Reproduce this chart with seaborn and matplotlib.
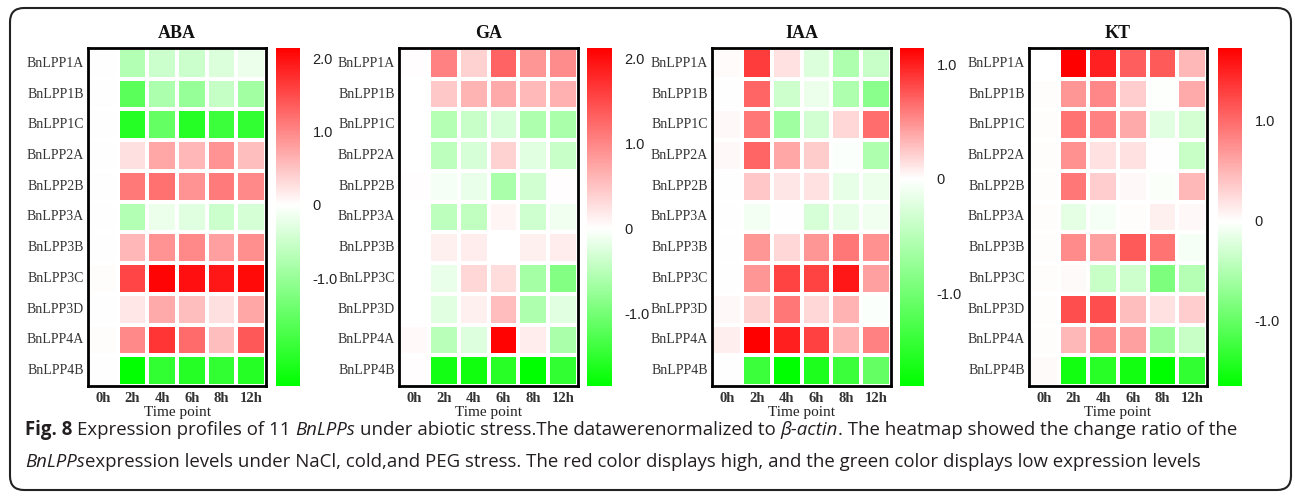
import numpy as np
import pandas as pd
import matplotlib
matplotlib.use("Agg")
import matplotlib.pyplot as plt
import seaborn as sns
from matplotlib.colors import LinearSegmentedColormap
from matplotlib.patches import FancyBboxPatch
from matplotlib.transforms import IdentityTransform

# ---------------- data ----------------
genes = ["BnLPP1A", "BnLPP1B", "BnLPP1C", "BnLPP2A", "BnLPP2B", "BnLPP3A",
         "BnLPP3B", "BnLPP3C", "BnLPP3D", "BnLPP4A", "BnLPP4B"]
time_points = ["0h", "2h", "4h", "6h", "8h", "12h"]
treatments = ["ABA", "GA", "IAA", "KT"]

aba = [
    [0.00, -0.73, -0.50, -0.50, -0.35, -0.20],
    [0.00, -1.60, -0.80, -1.00, -0.55, -0.90],
    [0.00, -2.10, -1.50, -2.10, -1.90, -2.00],
    [0.00, 0.25, 0.75, 0.60, 0.90, 0.55],
    [0.00, 1.13, 1.20, 0.90, 1.10, 1.00],
    [0.00, -0.73, -0.20, -0.30, -0.50, -0.40],
    [0.00, 0.60, 0.90, 1.00, 0.80, 0.95],
    [0.02, 1.55, 2.10, 2.00, 1.95, 2.05],
    [0.00, 0.20, 0.70, 0.55, 0.25, 0.75],
    [0.02, 1.00, 1.70, 1.25, 0.55, 1.40],
    [0.00, -2.45, -2.00, -2.10, -2.00, -2.10],
]
ga = [
    [0.02, 1.04, 0.37, 1.29, 0.87, 0.95],
    [0.00, 0.46, 0.62, 0.70, 0.58, 0.66],
    [0.00, -0.54, -0.40, -0.29, -0.58, -0.62],
    [0.00, -0.47, -0.29, 0.37, -0.22, -0.40],
    [0.02, -0.07, -0.15, -0.62, -0.33, 0.02],
    [0.00, -0.47, -0.44, 0.08, -0.36, -0.10],
    [0.00, 0.12, 0.16, 0.00, 0.12, 0.16],
    [0.01, -0.15, 0.33, 0.29, -0.65, -0.90],
    [0.00, -0.22, 0.12, 0.54, -0.58, -0.22],
    [0.05, -0.51, -0.25, 2.10, 0.16, -0.62],
    [0.02, -1.70, -1.74, -1.56, -1.85, -1.49],
]
iaa = [
    [0.02, 0.87, 0.13, -0.25, -0.57, -0.39],
    [0.00, 0.69, -0.36, -0.14, -0.57, -0.82],
    [0.03, 0.60, -0.67, -0.32, 0.18, 0.65],
    [0.03, 0.69, 0.40, 0.22, -0.03, -0.57],
    [0.00, 0.25, 0.11, 0.13, -0.18, -0.14],
    [0.00, -0.07, 0.01, -0.28, -0.18, -0.11],
    [0.00, 0.47, 0.18, 0.47, 0.60, 0.49],
    [0.00, 0.47, 0.83, 0.83, 1.03, 0.42],
    [0.03, 0.20, 0.60, 0.18, 0.34, -0.03],
    [0.07, 1.14, 1.00, 0.85, 0.34, 0.56],
    [0.00, -1.38, -1.81, -1.60, -1.38, -1.10],
]
kt = [
    [0.00, 1.73, 1.50, 1.09, 1.12, 0.48],
    [0.02, 0.71, 0.81, 0.34, -0.02, 0.58],
    [0.02, 0.95, 0.85, 0.58, -0.19, -0.29],
    [0.02, 0.75, 0.20, 0.20, 0.01, -0.36],
    [0.02, 0.92, 0.34, 0.05, -0.03, 0.48],
    [0.02, -0.16, -0.06, 0.02, 0.10, 0.05],
    [0.02, 0.78, 0.64, 1.12, 0.95, -0.06],
    [0.02, 0.03, -0.36, -0.32, -0.84, -0.48],
    [0.02, 1.19, 1.19, 0.44, 0.20, 0.34],
    [0.02, 0.48, 0.78, 0.64, -0.64, -0.36],
    [0.03, -1.52, -1.39, -1.52, -1.65, -1.33],
]
value_ranges = [(-2.47, 2.14), (-1.85, 2.12), (-1.81, 1.14), (-1.65, 1.73)]
cbar_ticks = [[-1.0, 0.0, 1.0, 2.0], [-1.0, 0.0, 1.0, 2.0],
              [-1.0, 0.0, 1.0], [-1.0, 0.0, 1.0]]
cbar_labels = [["-1.0", "0", "1.0", "2.0"], ["-1.0", "0", "1.0", "2.0"],
               ["-1.0", "0", "1.0"], ["-1.0", "0", "1.0"]]
datasets = [aba, ga, iaa, kt]

# ---------------- layout (pixels) ----------------
W, H = 1295, 497
heat_x = [(88, 266), (399, 578), (712, 891), (1029, 1207)]
cbar_x = [(276, 300), (587, 612), (900, 924), (1218, 1242)]
top_y, bot_y = 48, 386


def rect(x0, x1, y0, y1):
    return [x0 / W, 1 - y1 / H, (x1 - x0) / W, (y1 - y0) / H]


sns.set_theme(style="white")
plt.rcParams["font.family"] = ["Liberation Serif", "DejaVu Serif"]

fig = plt.figure(figsize=(W / 100, H / 100), dpi=100)
fig.patch.set_facecolor("white")

green = "#00FF00"
red = "#FF0000"

for i, name in enumerate(treatments):
    vmin, vmax = value_ranges[i]
    f0 = (0 - vmin) / (vmax - vmin)
    cmap = LinearSegmentedColormap.from_list(
        f"c{i}", [(0.0, green), (f0, "white"), (1.0, red)])
    df = pd.DataFrame(datasets[i], index=genes, columns=time_points)
    ax = fig.add_axes(rect(*heat_x[i], top_y, bot_y))
    cax = fig.add_axes(rect(*cbar_x[i], top_y, bot_y))
    sns.heatmap(df, ax=ax, cmap=cmap, vmin=vmin, vmax=vmax,
                linewidths=1.5, linecolor="white", cbar_ax=cax,
                cbar_kws={"ticks": cbar_ticks[i]})
    for s in ax.spines.values():
        s.set_visible(True)
        s.set_linewidth(2.0)
        s.set_color("black")
    ax.tick_params(axis="both", length=0)
    ax.tick_params(axis="y", pad=3)
    ax.tick_params(axis="x", pad=4)
    ax.set_yticklabels(genes, rotation=0, fontsize=10, color="#333333",
                       fontfamily="Liberation Serif")
    ax.set_xticklabels(time_points, rotation=0, fontsize=10.5, color="#333333",
                       fontfamily="Liberation Serif", fontweight="bold")
    ax.set_ylabel("")
    ax.set_xlabel("Time point", fontsize=11, color="#222222",
                  fontfamily="Liberation Serif", labelpad=1)
    ax.set_title(name, fontsize=13, fontweight="bold", color="#111111",
                 fontfamily="Liberation Serif", pad=7)
    cb = ax.collections[0].colorbar
    cb.outline.set_visible(False)
    cax.set_yticks(cbar_ticks[i])
    cax.set_yticklabels(cbar_labels[i], fontsize=10.5, color="#222222",
                        fontfamily="Liberation Sans")
    cax.tick_params(length=0, pad=9)

# rounded frame
frame = FancyBboxPatch((10, 7), 1281, 482,
                       boxstyle="round,pad=0,rounding_size=14",
                       transform=IdentityTransform(), fill=False,
                       linewidth=1.5, edgecolor="#222222")
fig.add_artist(frame)

# caption with mixed styles
cap_font = ["Open Sans", "Noto Sans", "DejaVu Sans"]
line1 = [("Fig. 8", "bold", "normal"),
         (" Expression profiles of 11 ", "normal", "normal"),
         ("BnLPPs", "normal", "italic"),
         (" under abiotic stress.The datawerenormalized to ", "normal", "normal"),
         ("β-actin", "normal", "italic"),
         (". The heatmap showed the change ratio of the", "normal", "normal")]
line2 = [("BnLPPs", "normal", "italic"),
         ("expression levels under NaCl, cold,and PEG stress. The red color displays high, and the green color displays low expression levels",
          "normal", "normal")]

renderer = fig.canvas.get_renderer()


def text_width(s, size, weight, style):
    t = fig.text(0, 0, s, fontsize=size, fontweight=weight, fontstyle=style,
                 family=cap_font)
    w = t.get_window_extent(renderer).width
    t.remove()
    return w


def piece_width(s, size, weight, style):
    # account for leading/trailing spaces explicitly
    core = s.strip(" ")
    lead = len(s) - len(s.lstrip(" "))
    trail = len(s) - len(s.rstrip(" "))
    sp = text_width("x x", size, weight, style) - text_width("xx", size, weight, style)
    return text_width(core, size, weight, style) + (lead + trail) * sp, lead * sp, core


def draw_line(pieces, x0, yc, size):
    x = x0
    for s, wgt, sty in pieces:
        w, lead, core = piece_width(s, size, wgt, sty)
        fig.text((x + lead) / W, 1 - yc / H, core, fontsize=size, fontweight=wgt,
                 fontstyle=sty, family=cap_font, color="#231f20",
                 va="center", ha="left")
        x += w
    return x - x0


base = 12.0
total = sum(piece_width(s, base, w, st)[0] for s, w, st in line1)
size = base * (1207.0 / total)
draw_line(line1, 25, 430, size)
draw_line(line2, 25, 462, size)

fig.savefig("out.png", dpi=100, facecolor="white")
